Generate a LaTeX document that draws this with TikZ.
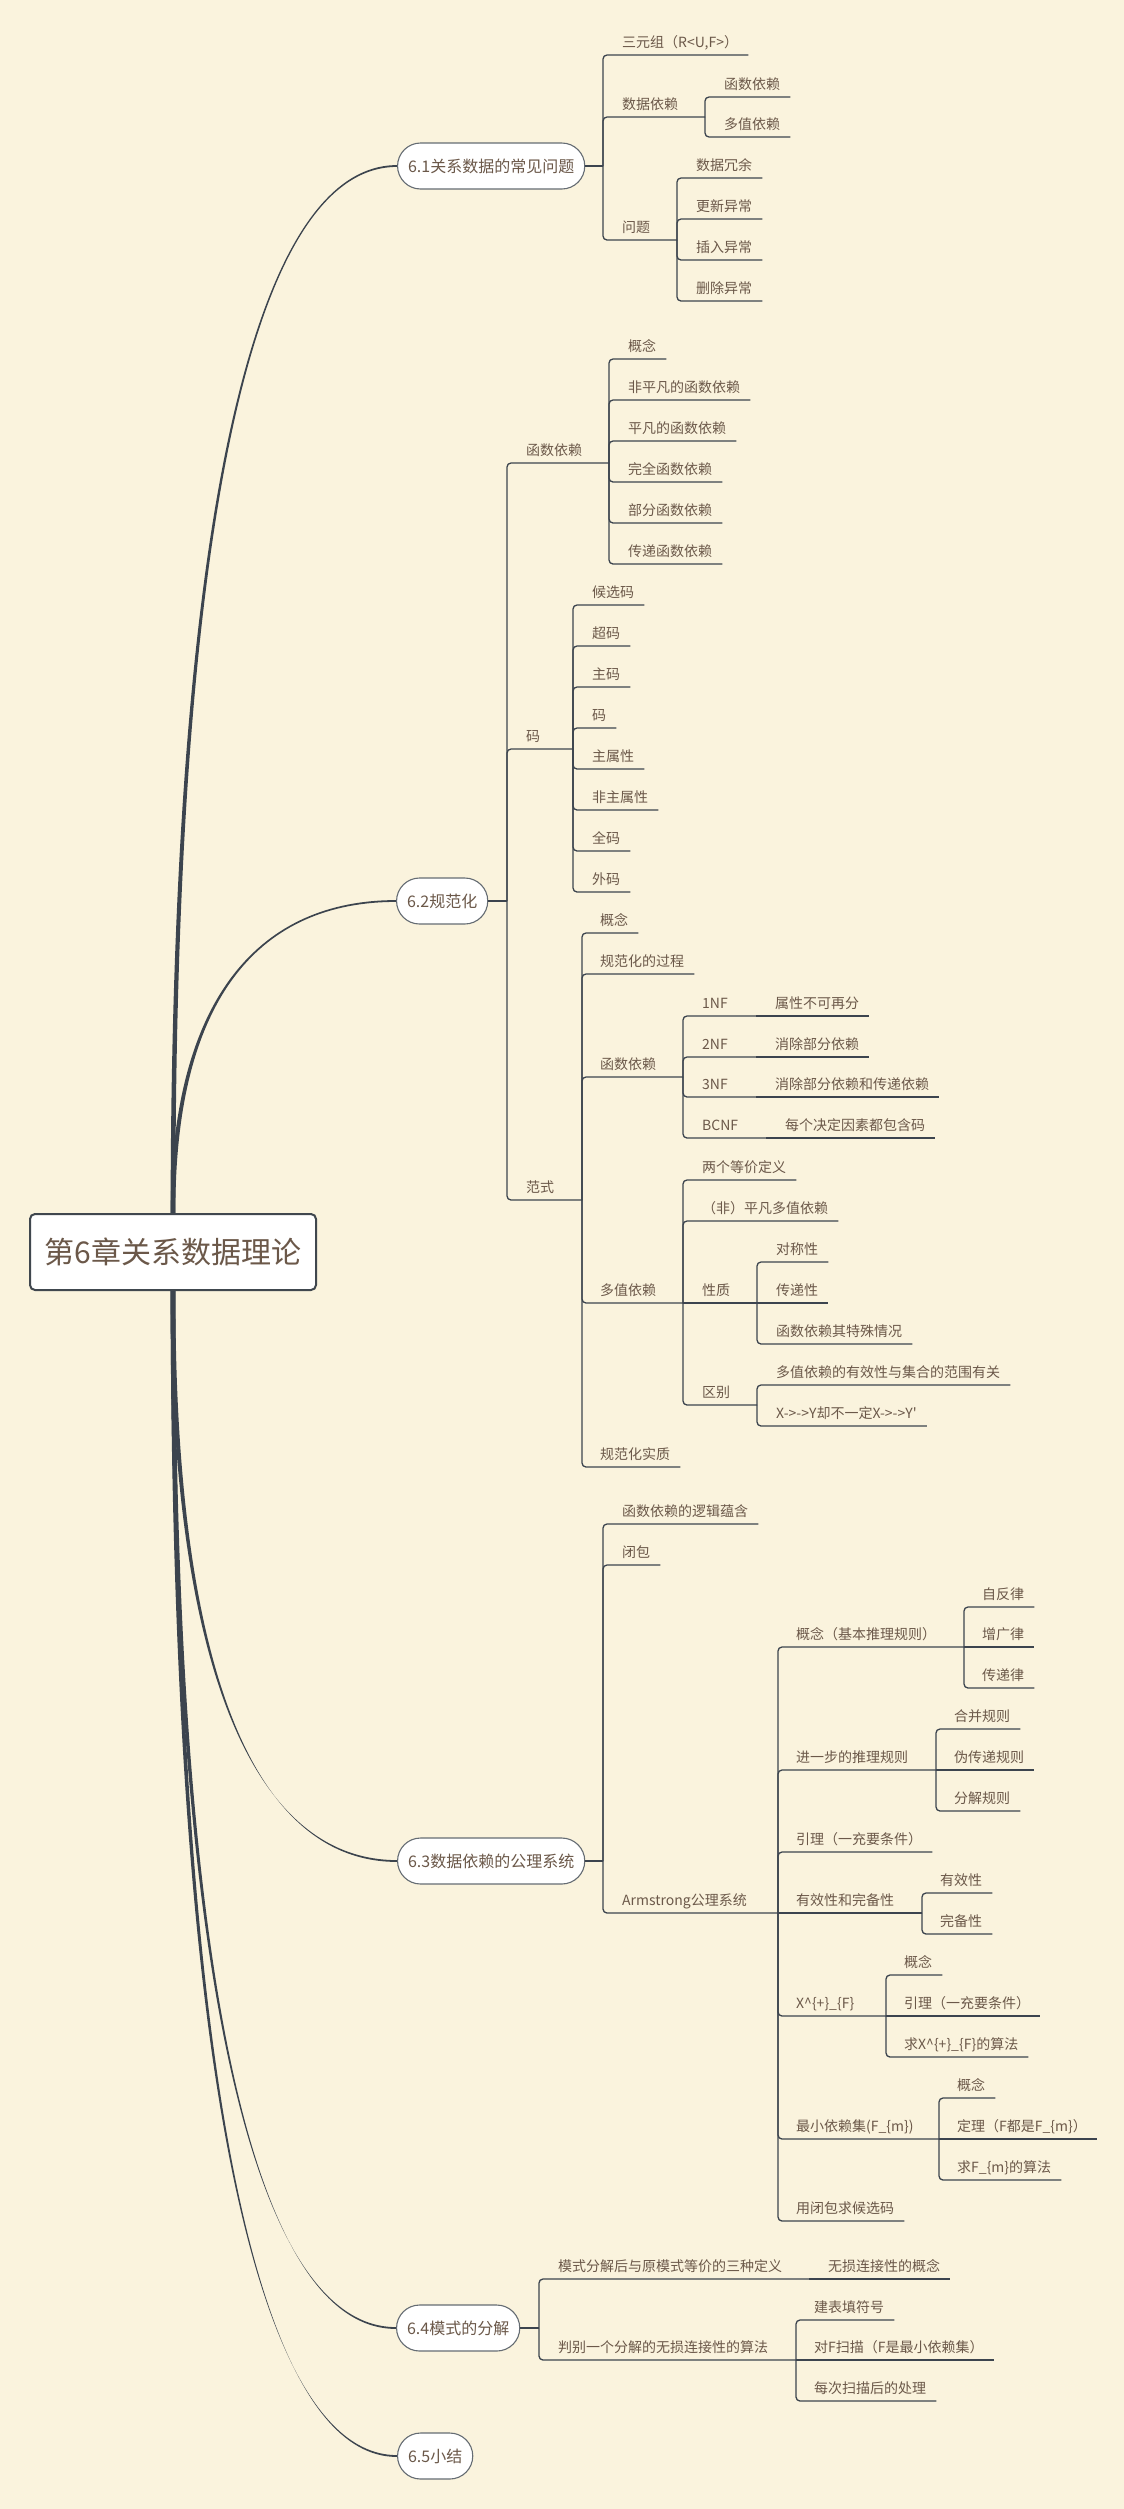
\documentclass[tikz,border=0pt]{standalone}
\usepackage{fontspec}
\newfontfamily\cjk{Noto Sans CJK SC}
\usetikzlibrary{calc}
\pgfdeclarelayer{bg}
\pgfsetlayers{bg,main}
\definecolor{bgc}{HTML}{FAF3DD}
\definecolor{lc}{HTML}{3C444E}
\definecolor{tc}{HTML}{6B5849}
\definecolor{sc}{HTML}{656C73}
\definecolor{rc}{HTML}{40474E}
\tikzset{
  txt/.style={font=\cjk\fontsize{14pt}{16pt}\selectfont, text=tc, inner sep=0pt, anchor=base west},
  ln/.style={draw=lc, line width=1.3pt, rounded corners=4pt},
  sec/.style={draw=sc, line width=1.1pt, fill=white, rounded corners=23pt, minimum height=46pt, inner xsep=10.5pt, font=\cjk\fontsize{16pt}{18pt}\selectfont, text=tc, anchor=west},
  rootn/.style={draw=rc, line width=2pt, fill=white, rounded corners=5pt, minimum width=286pt, minimum height=76pt, font=\cjk\fontsize{30pt}{34pt}\selectfont, text=tc},
}
\newcommand\mmleaf[4]{% name, line y, text x, text
  \node[txt] (#1) at (#3,#2-8) {#4};
  \coordinate (#1-r) at ($(#1.base east)+(10,8)$);}
\newcommand\mmpar[5]{% name, line y, text x, spine x, text
  \node[txt] (#1) at (#3,#2-8) {#5};
  \coordinate (#1-r) at (#4,#2);}
\newcommand\mmlink[2]{\draw[ln] (#1-r) |- (#2-r);}
\newcommand\mmlinkh[2]{\draw[ln] (#1-r) -- (#2-r);}
\newcommand\taper[2]{%
  \path (root.#2) coordinate (tA) (#1.west) coordinate (tB) (tA |- tB) coordinate (tC);
  \fill[lc] ($(tA)+(-2.4,0)$) .. controls ($(tA)!0.7!(tC)+(-1.7,0)$) and ($(tC)!0.4!(tB)+(0,-0.9)$) .. ($(tB)+(0,-0.9)$)
    -- ($(tB)+(0,0.9)$) .. controls ($(tC)!0.4!(tB)+(0,0.9)$) and ($(tA)!0.7!(tC)+(1.7,0)$) .. ($(tA)+(2.4,0)$) -- cycle;}
\begin{document}
\begin{tikzpicture}[x=1pt,y=-1pt]
\begin{pgfonlayer}{bg}
\fill[bgc] (0,0) rectangle (1124,2509);
\end{pgfonlayer}
\useasboundingbox (0,0) rectangle (1124,2509);

% root and sections
\node[rootn] (root) at (173,1252) {第6章关系数据理论};
\node[sec] (s61) at (397,166) {6.1关系数据的常见问题};
\node[sec] (s62) at (396,901) {6.2规范化};
\node[sec] (s63) at (397,1861) {6.3数据依赖的公理系统};
\node[sec] (s64) at (396,2328) {6.4模式的分解};
\node[sec] (s65) at (397,2456) {6.5小结};

\begin{pgfonlayer}{bg}
\taper{s61}{north}
\taper{s62}{north}
\taper{s63}{south}
\taper{s64}{south}
\taper{s65}{south}
\end{pgfonlayer}

% ---------- 6.1 ----------
\coordinate (s61-r) at (603,166);
\draw[ln] (s61.east) -- (s61-r);
\mmleaf{a1}{55}{622}{三元组（R<U,F>）}
\mmpar{a2}{117}{622}{705}{数据依赖}
\mmleaf{a21}{97}{724}{函数依赖}
\mmleaf{a22}{137}{724}{多值依赖}
\mmpar{a3}{240}{622}{677}{问题}
\mmleaf{a31}{178}{696}{数据冗余}
\mmleaf{a32}{219}{696}{更新异常}
\mmleaf{a33}{260}{696}{插入异常}
\mmleaf{a34}{301}{696}{删除异常}
\mmlink{s61}{a1}\mmlink{s61}{a2}\mmlink{s61}{a3}
\mmlink{a2}{a21}\mmlink{a2}{a22}
\mmlink{a3}{a31}\mmlink{a3}{a32}\mmlink{a3}{a33}\mmlink{a3}{a34}

% ---------- 6.2 ----------
\coordinate (s62-r) at (507,901);
\draw[ln] (s62.east) -- (s62-r);
\mmpar{b1}{463}{526}{609}{函数依赖}
\mmleaf{b11}{359}{628}{概念}
\mmleaf{b12}{400}{628}{非平凡的函数依赖}
\mmleaf{b13}{441}{628}{平凡的函数依赖}
\mmleaf{b14}{482}{628}{完全函数依赖}
\mmleaf{b15}{523}{628}{部分函数依赖}
\mmleaf{b16}{564}{628}{传递函数依赖}
\mmpar{b2}{749}{526}{573}{码}
\mmleaf{b21}{605}{592}{候选码}
\mmleaf{b22}{646}{592}{超码}
\mmleaf{b23}{687}{592}{主码}
\mmleaf{b24}{728}{592}{码}
\mmleaf{b25}{769}{592}{主属性}
\mmleaf{b26}{810}{592}{非主属性}
\mmleaf{b27}{851}{592}{全码}
\mmleaf{b28}{892}{592}{外码}
\mmpar{b3}{1200}{526}{582}{范式}
\mmleaf{b31}{933}{600}{概念}
\mmleaf{b32}{974}{600}{规范化的过程}
\mmpar{b33}{1077}{600}{683}{函数依赖}
\mmpar{b331}{1016}{702}{756}{1NF}
\mmleaf{b3311}{1016}{775}{属性不可再分}
\mmpar{b332}{1057}{702}{756}{2NF}
\mmleaf{b3321}{1057}{775}{消除部分依赖}
\mmpar{b333}{1097}{702}{756}{3NF}
\mmleaf{b3331}{1097}{775}{消除部分依赖和传递依赖}
\mmpar{b334}{1138}{702}{766}{BCNF}
\mmleaf{b3341}{1138}{785}{每个决定因素都包含码}
\mmpar{b34}{1303}{600}{683}{多值依赖}
\mmleaf{b341}{1180}{702}{两个等价定义}
\mmleaf{b342}{1221}{702}{（非）平凡多值依赖}
\mmpar{b343}{1303}{702}{757}{性质}
\mmleaf{b3431}{1262}{776}{对称性}
\mmleaf{b3432}{1303}{776}{传递性}
\mmleaf{b3433}{1344}{776}{函数依赖其特殊情况}
\mmpar{b344}{1405}{702}{757}{区别}
\mmleaf{b3441}{1385}{776}{多值依赖的有效性与集合的范围有关}
\mmleaf{b3442}{1426}{776}{X->->Y却不一定X->->Y'}
\mmleaf{b35}{1467}{600}{规范化实质}
\mmlink{s62}{b1}\mmlink{s62}{b2}\mmlink{s62}{b3}
\mmlink{b1}{b11}\mmlink{b1}{b12}\mmlink{b1}{b13}\mmlink{b1}{b14}\mmlink{b1}{b15}\mmlink{b1}{b16}
\mmlink{b2}{b21}\mmlink{b2}{b22}\mmlink{b2}{b23}\mmlink{b2}{b24}\mmlink{b2}{b25}\mmlink{b2}{b26}\mmlink{b2}{b27}\mmlink{b2}{b28}
\mmlink{b3}{b31}\mmlink{b3}{b32}\mmlink{b3}{b33}\mmlink{b3}{b34}\mmlink{b3}{b35}
\mmlink{b33}{b331}\mmlink{b33}{b332}\mmlink{b33}{b333}\mmlink{b33}{b334}
\mmlinkh{b331}{b3311}\mmlinkh{b332}{b3321}\mmlinkh{b333}{b3331}\mmlinkh{b334}{b3341}
\mmlink{b34}{b341}\mmlink{b34}{b342}\mmlinkh{b34}{b343}\mmlink{b34}{b344}
\mmlink{b343}{b3431}\mmlinkh{b343}{b3432}\mmlink{b343}{b3433}
\mmlink{b344}{b3441}\mmlink{b344}{b3442}

% ---------- 6.3 ----------
\coordinate (s63-r) at (603,1861);
\draw[ln] (s63.east) -- (s63-r);
\mmleaf{c1}{1524}{622}{函数依赖的逻辑蕴含}
\mmleaf{c2}{1565}{622}{闭包}
\mmpar{c3}{1913}{622}{778}{Armstrong公理系统}
\mmpar{c31}{1647}{796}{964}{概念（基本推理规则）}
\mmleaf{c311}{1607}{982}{自反律}
\mmleaf{c312}{1647}{982}{增广律}
\mmleaf{c313}{1688}{982}{传递律}
\mmpar{c32}{1770}{796}{936}{进一步的推理规则}
\mmleaf{c321}{1729}{954}{合并规则}
\mmleaf{c322}{1770}{954}{伪传递规则}
\mmleaf{c323}{1811}{954}{分解规则}
\mmleaf{c33}{1852}{796}{引理（一充要条件）}
\mmpar{c34}{1913}{796}{922}{有效性和完备性}
\mmleaf{c341}{1893}{940}{有效性}
\mmleaf{c342}{1934}{940}{完备性}
\mmpar{c35}{2016}{796}{886}{X\textasciicircum\{+\}\_\{F\}}
\mmleaf{c351}{1975}{904}{概念}
\mmleaf{c352}{2016}{904}{引理（一充要条件）}
\mmleaf{c353}{2057}{904}{求X\textasciicircum\{+\}\_\{F\}的算法}
\mmpar{c36}{2139}{796}{939}{最小依赖集(F\_\{m\})}
\mmleaf{c361}{2098}{957}{概念}
\mmleaf{c362}{2139}{957}{定理（F都是F\_\{m\}）}
\mmleaf{c363}{2180}{957}{求F\_\{m\}的算法}
\mmleaf{c37}{2221}{796}{用闭包求候选码}
\mmlink{s63}{c1}\mmlink{s63}{c2}\mmlink{s63}{c3}
\mmlink{c3}{c31}\mmlink{c3}{c32}\mmlink{c3}{c33}\mmlinkh{c3}{c34}\mmlink{c3}{c35}\mmlink{c3}{c36}\mmlink{c3}{c37}
\mmlink{c31}{c311}\mmlinkh{c31}{c312}\mmlink{c31}{c313}
\mmlink{c32}{c321}\mmlinkh{c32}{c322}\mmlink{c32}{c323}
\mmlink{c34}{c341}\mmlink{c34}{c342}
\mmlink{c35}{c351}\mmlinkh{c35}{c352}\mmlink{c35}{c353}
\mmlink{c36}{c361}\mmlinkh{c36}{c362}\mmlink{c36}{c363}

% ---------- 6.4 ----------
\coordinate (s64-r) at (539,2328);
\draw[ln] (s64.east) -- (s64-r);
\mmpar{d1}{2279}{558}{809}{模式分解后与原模式等价的三种定义}
\mmleaf{d11}{2279}{828}{无损连接性的概念}
\mmpar{d2}{2360}{558}{796}{判别一个分解的无损连接性的算法}
\mmleaf{d21}{2320}{814}{建表填符号}
\mmleaf{d22}{2360}{814}{对F扫描（F是最小依赖集）}
\mmleaf{d23}{2401}{814}{每次扫描后的处理}
\mmlink{s64}{d1}\mmlink{s64}{d2}
\mmlinkh{d1}{d11}
\mmlink{d2}{d21}\mmlinkh{d2}{d22}\mmlink{d2}{d23}
\end{tikzpicture}
\end{document}
